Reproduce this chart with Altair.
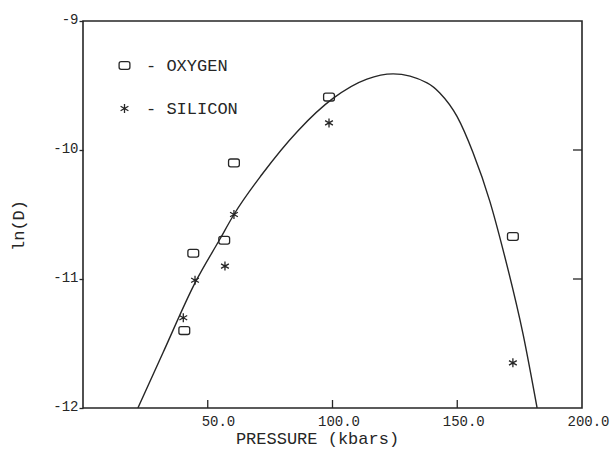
import altair as alt
import pandas as pd

# ---- data ----
oxy_p = [40.6, 44.2, 56.6, 60.5, 98.6, 172.3]
oxy_lnd = [-11.40, -10.80, -10.70, -10.10, -9.59, -10.67]
si_p = [40.2, 44.9, 56.9, 60.5, 98.6, 172.3]
si_lnd = [-11.30, -11.01, -10.90, -10.50, -9.79, -11.65]

curve_p = [22.0, 32.1, 44.9, 54.9, 60.5, 71.7, 86.2, 100.2, 113.8, 124.3,
           137.9, 143.1, 149.9, 156.3, 163.1, 168.3, 176.4, 182.0]
curve_lnd = [-12.00, -11.57, -11.03, -10.69, -10.50, -10.19, -9.85, -9.60, -9.45, -9.41,
             -9.48, -9.56, -9.74, -10.02, -10.40, -10.77, -11.43, -12.00]

x_tick_values = [50, 100, 150, 200]
x_inner_ticks = [50, 100, 150]
y_tick_values = [-9, -10, -11, -12]
y_inner_ticks = [-10, -11]
elements = ["OXYGEN", "SILICON"]

INK = "#262626"
FONT = "Liberation Mono"

O_PATH = ("M-0.55,-0.65L0.55,-0.65Q0.9,-0.65 0.9,-0.3L0.9,0.3Q0.9,0.65 0.55,0.65"
          "L-0.55,0.65Q-0.9,0.65 -0.9,0.3L-0.9,-0.3Q-0.9,-0.65 -0.55,-0.65Z")
STAR_PATH = ("M0,-0.75L0,0.75M-0.65,-0.375L0.65,0.375M-0.65,0.375L0.65,-0.375")

pts = pd.DataFrame({
    "P": oxy_p + si_p,
    "lnD": oxy_lnd + si_lnd,
    "element": [elements[0]] * len(oxy_p) + [elements[1]] * len(si_p),
})
curve = pd.DataFrame({"P": curve_p, "lnD": curve_lnd})
xt = pd.DataFrame({"P": x_inner_ticks})
yt = pd.DataFrame({"lnD": y_inner_ticks})

xscale = alt.Scale(domain=[0, 200], nice=False, zero=False)
yscale = alt.Scale(domain=[-12, -9], nice=False, zero=False)

xaxis = alt.Axis(
    values=x_tick_values, format=".1f", labelAlign="right", labelOffset=27,
    labelPadding=6, labelFont=FONT, labelFontSize=14, labelColor=INK,
    ticks=False, domain=False, grid=False,
    title="PRESSURE (kbars)", titleX=234, titleY=35, titleBaseline="alphabetic",
    titleFont=FONT, titleFontSize=17, titleFontWeight="normal", titleColor=INK,
)
yaxis = alt.Axis(
    values=y_tick_values, labelExpr="datum.value + ''", labelPadding=1, labelOffset=-2,
    labelFont=FONT, labelFontSize=14, labelColor=INK,
    ticks=True, tickSize=4, tickColor=INK, tickWidth=1.3, domain=False, grid=False,
    title="ln(D)", titleX=-65, titleY=204, titleAlign="center", titleBaseline="middle",
    titleAngle=270, titleFont=FONT, titleFontSize=17, titleFontWeight="normal",
    titleColor=INK,
)

line = alt.Chart(curve).mark_line(
    interpolate="monotone", color=INK, strokeWidth=1.4, clip=True
).encode(
    x=alt.X("P:Q", scale=xscale, axis=xaxis),
    y=alt.Y("lnD:Q", scale=yscale, axis=yaxis),
)

points = alt.Chart(pts).mark_point(
    filled=False, color=INK, strokeWidth=1.3, size=144, opacity=1
).encode(
    x=alt.X("P:Q", scale=xscale, axis=xaxis),
    y=alt.Y("lnD:Q", scale=yscale, axis=yaxis),
    shape=alt.Shape(
        "element:N",
        scale=alt.Scale(domain=elements, range=[O_PATH, STAR_PATH]),
        legend=alt.Legend(
            title=None, orient="none", legendX=33, legendY=36, direction="vertical",
            labelExpr="'- ' + datum.label", labelFont=FONT, labelFontSize=17,
            labelColor=INK, symbolSize=144, symbolStrokeWidth=1.3,
            symbolStrokeColor=INK, symbolFillColor="transparent",
            rowPadding=25, labelOffset=13, padding=0,
        ),
    ),
)

xrules = alt.Chart(xt).mark_rule(color=INK, strokeWidth=1.3).encode(
    x=alt.X("P:Q", scale=xscale, axis=xaxis),
    y=alt.value(387), y2=alt.value(379),
)
yrules = alt.Chart(yt).mark_rule(color=INK, strokeWidth=1.3).encode(
    y=alt.Y("lnD:Q", scale=yscale, axis=yaxis),
    x=alt.value(499), x2=alt.value(490),
)

chart = alt.layer(line, points, xrules, yrules).properties(
    width=499, height=387,
    autosize=alt.AutoSizeParams(type="none"),
    padding={"left": 83, "top": 21, "right": 28, "bottom": 42},
    background="white",
).configure_view(stroke=INK, strokeWidth=1.6)

chart.save("out.html", embed_options={"renderer": "svg", "actions": False})
